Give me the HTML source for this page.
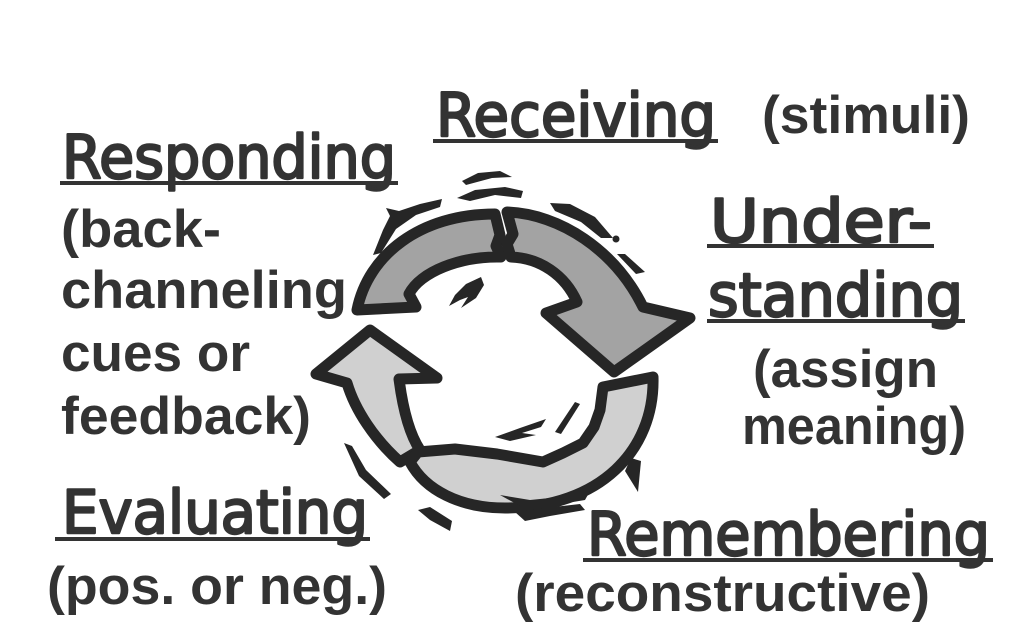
<!DOCTYPE html>
<html><head><meta charset="utf-8">
<style>
html,body{margin:0;padding:0;background:#fff;}
svg{display:block;}
.h{font-family:"DejaVu Sans","Liberation Sans",sans-serif;font-size:60px;fill:#333;stroke:#333;stroke-width:2.4px;stroke-linejoin:round;}
.b{font-family:"Liberation Sans",sans-serif;font-weight:bold;font-size:53px;fill:#333;}
.ar{stroke:#262626;stroke-width:11;stroke-linejoin:round;}
.dk{fill:#a3a3a3;}
.lt{fill:#d0d0d0;}
.dec{fill:#262626;}
</style></head><body>
<svg width="1024" height="643" viewBox="0 0 1024 643" xmlns="http://www.w3.org/2000/svg">
<rect width="1024" height="643" fill="#fff"/>

<!-- cycle graphic -->
<path class="ar dk" d="M357,310 C368,255 420,214 495,214 L500,235 L496,246 L501,257 C460,256 420,272 409,294 L416,307 Z"/>
<path class="ar dk" d="M507,212 C560,214 615,250 643,307 L690,318 L614,372 L546,313 L577,302 C565,275 540,258 511,257 L507,244 L513,234 Z"/>
<path class="ar lt" d="M370,330 L437,378 L399,379 C403,410 410,435 420,450 L400,462 C375,440 355,410 347,383 L316,374 Z"/>
<path class="ar lt" d="M653,377 C655,450 600,508 505,508 C460,508 425,490 410,462 L418,452 L455,449 L497,454 L543,462 L563,453 L583,443 L594,427 L600,410 L603,387 Z"/>

<!-- decorative strokes -->
<polygon class="dec" points="462,181 478,173 500,171 512,177 492,178 466,185"/>
<polygon class="dec" points="457,198 475,190 505,187 523,191 521,198 495,195 470,201"/>
<polygon class="dec" points="373,255 383,230 390,216 386,208 399,211 420,204 442,199 440,207 416,215 396,229 381,253"/>
<polygon class="dec" points="550,203 570,204 595,217 613,238 601,238 581,222 555,211"/>
<circle class="dec" cx="616" cy="239" r="3.5"/>
<polygon class="dec" points="617,254 625,254 645,272 636,274"/>
<polygon class="dec" points="481,277 466,284 455,295 449,306 460,300 468,297 461,308 476,298 484,285"/>
<polygon class="dec" points="495,437 520,428 546,419 541,427 522,433 536,435 510,441"/>
<polygon class="dec" points="555,432 575,402 580,404 561,434"/>
<polygon class="dec" points="344,443 352,446 366,470 391,494 384,499 359,476"/>
<polygon class="dec" points="418,510 430,507 452,521 450,531 430,520"/>
<polygon class="dec" points="640,424 646,428 636,452 628,452"/>
<polygon class="dec" points="631,458 641,461 638,492 625,471"/>
<polygon class="dec" points="500,495 530,500 560,497 590,491 585,500 555,505 520,506"/>
<polygon class="dec" points="515,512 545,508 580,504 585,510 550,516 525,521"/>

<!-- headings -->
<text class="h" x="436" y="136" textLength="280" lengthAdjust="spacingAndGlyphs">Receiving</text>
<rect x="433" y="139" width="285" height="4" fill="#333"/>
<text class="h" x="62" y="178" textLength="334" lengthAdjust="spacingAndGlyphs">Responding</text>
<rect x="60" y="181" width="338" height="4" fill="#333"/>
<text class="h" x="710" y="242" textLength="222" lengthAdjust="spacingAndGlyphs">Under-</text>
<rect x="707" y="244" width="227" height="4" fill="#333"/>
<text class="h" x="708" y="316" textLength="255" lengthAdjust="spacingAndGlyphs">standing</text>
<rect x="707" y="319" width="258" height="4" fill="#333"/>
<text class="h" x="62" y="533" textLength="306" lengthAdjust="spacingAndGlyphs">Evaluating</text>
<rect x="55" y="537" width="315" height="4" fill="#333"/>
<text class="h" x="587" y="555" textLength="403" lengthAdjust="spacingAndGlyphs">Remembering</text>
<rect x="583" y="558" width="410" height="4" fill="#333"/>

<!-- body text -->
<text class="b" x="762" y="133" textLength="208" lengthAdjust="spacingAndGlyphs">(stimuli)</text>
<text class="b" x="61" y="247" textLength="160" lengthAdjust="spacingAndGlyphs">(back-</text>
<text class="b" x="61" y="308" textLength="286" lengthAdjust="spacingAndGlyphs">channeling</text>
<text class="b" x="61" y="371" textLength="189" lengthAdjust="spacingAndGlyphs">cues or</text>
<text class="b" x="61" y="434" textLength="250" lengthAdjust="spacingAndGlyphs">feedback)</text>
<text class="b" x="753" y="387" textLength="185" lengthAdjust="spacingAndGlyphs">(assign</text>
<text class="b" x="742" y="444" textLength="224" lengthAdjust="spacingAndGlyphs">meaning)</text>
<text class="b" x="47" y="604" textLength="340" lengthAdjust="spacingAndGlyphs">(pos. or neg.)</text>
<text class="b" x="515" y="611" textLength="415" lengthAdjust="spacingAndGlyphs">(reconstructive)</text>
</svg>
</body></html>
